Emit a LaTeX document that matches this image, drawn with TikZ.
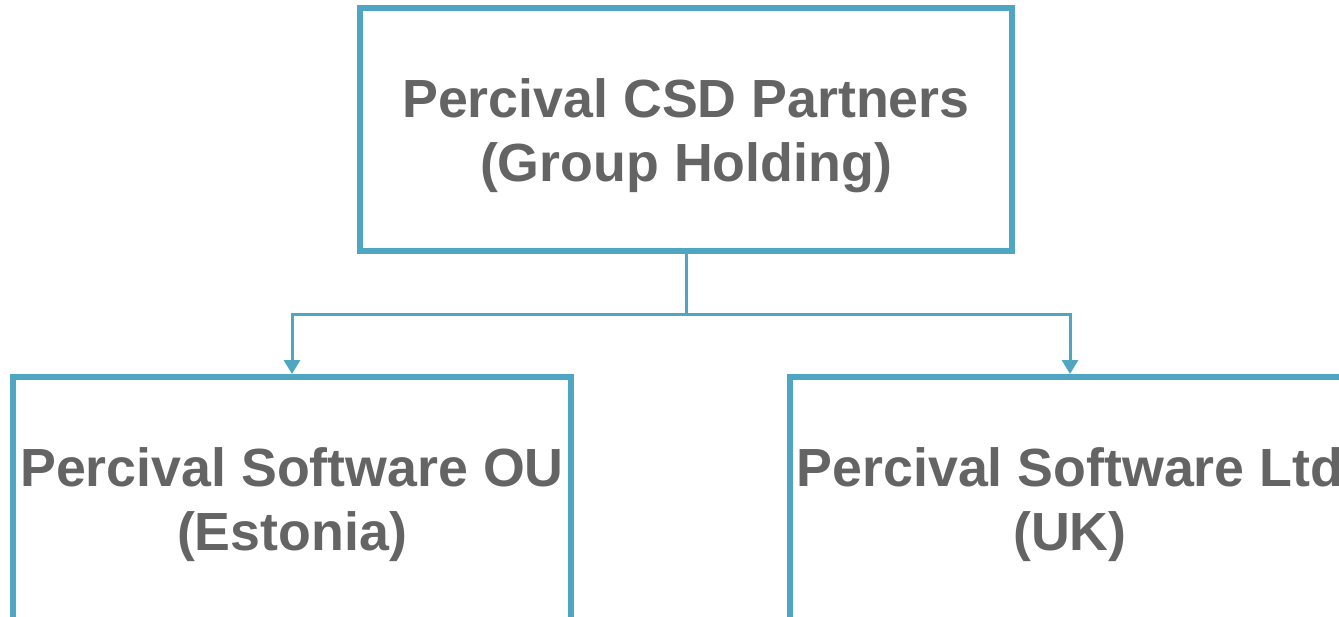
\documentclass[tikz,border=0pt]{standalone}
\usepackage{fontspec}
\setmainfont{Liberation Sans}
\usetikzlibrary{arrows.meta}
\definecolor{boxblue}{HTML}{4FA6C3}
\definecolor{textgray}{HTML}{646464}
\tikzset{
  entity/.style={draw=boxblue, line width=4.5pt, fill=white, align=center,
    text height=129.75pt, text depth=52.5pt, inner sep=0pt, text=textgray,
    font=\fontsize{40.3}{48}\selectfont\bfseries},
  link/.style={draw=boxblue, line width=2.25pt},
  linkarrow/.style={link, -{Triangle[width=12pt,length=10.5pt]}}
}
\begin{document}
\begin{tikzpicture}[x=0.75pt, y=-0.75pt]
                    \clip (0,0) rectangle (1339,617);
                    \useasboundingbox (0,0) rectangle (1339,617);

                    % Drawing box of the group holding
                    \node [entity, minimum width=489pt, anchor=north] (holding) at (686,5)
                      {Percival CSD Partners\\(Group Holding)};%

                    % Drawing box of the Estonian company
                    \node [entity, minimum width=418.5pt, anchor=north] (estonia) at (292,374)
                      {Percival Software OU\\(Estonia)};%

                    % Drawing box of the UK company
                    \node [entity, minimum width=420pt, anchor=north] (uk) at (1070,374)
                      {Percival Software Ltd\\(UK)};%

                    % Marking split point below holding
                    \coordinate (split) at ([yshift=-45pt]holding.south);%

                    % Drawing links holding -> companies
                    \draw [link] (holding.south) -- (split);%
                    \draw [linkarrow] (split) -| (estonia.north);%
                    \draw [linkarrow] (split) -| (uk.north);%
\end{tikzpicture}
\end{document}
